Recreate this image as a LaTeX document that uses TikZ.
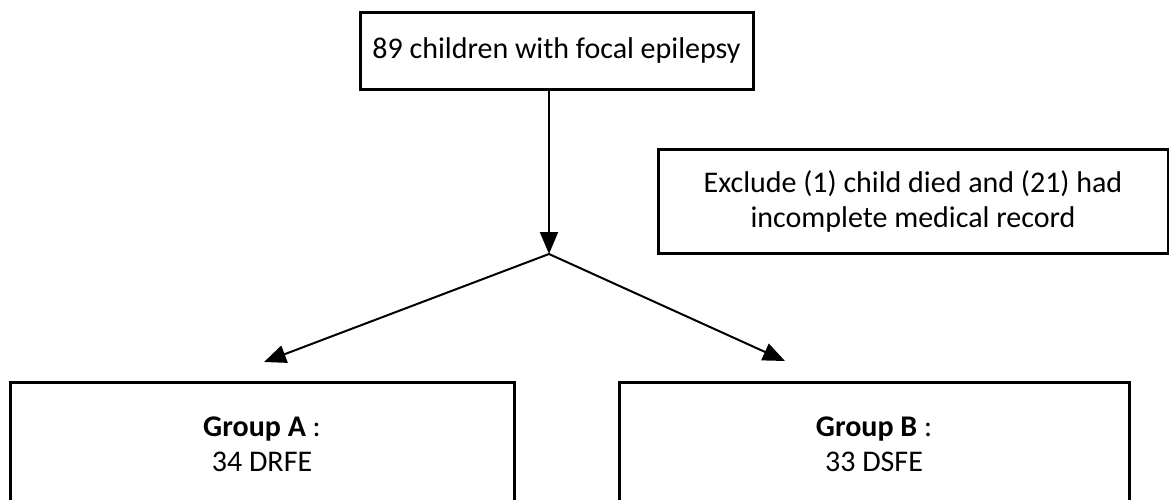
\documentclass[tikz,border=0pt]{standalone}
\usepackage{fontspec}
\setmainfont{Carlito}
\usetikzlibrary{arrows.meta}
\tikzset{
	flowbox/.style={draw, line width=1.5pt, align=center, inner sep=0pt, font=\fontsize{15}{17.5}\selectfont},
	flowarrow/.style={line width=1pt, -{Triangle[length=11pt,width=9pt]}}
}

\begin{document}
\begin{tikzpicture}[x=0.5pt,y=-0.5pt]
			\useasboundingbox (0,0) rectangle (1169,499);
			\clip (0,0) rectangle (1169,499);
			%%%%% BOXES %%%%%
			\node[flowbox, minimum width=196.5pt, minimum height=38.5pt] (total) at (556.5,50.5) {89 children with focal epilepsy};
			\node[flowbox, minimum width=255pt, minimum height=52pt] (exclude) at (913,201) {Exclude (1) child died and (21) had\\incomplete medical record};
			
			\node[flowbox, minimum width=252pt, minimum height=62.5pt] (groupA) at (262,444.5) {\textbf{Group A} :\\34 DRFE};
			\node[flowbox, minimum width=255pt, minimum height=62.5pt] (groupB) at (874,444.5) {\textbf{Group B} :\\33 DSFE};
			
			%%%%% ARROWS %%%%%
			\coordinate (split) at (549,254);
			\coordinate (tipA) at (264,362);
			\coordinate (tipB) at (785,361);
			\draw[flowarrow] (total.south -| split) -- (split);
			\draw[flowarrow] (split) -- (tipA);
			\draw[flowarrow] (split) -- (tipB);
\end{tikzpicture}
\end{document}
